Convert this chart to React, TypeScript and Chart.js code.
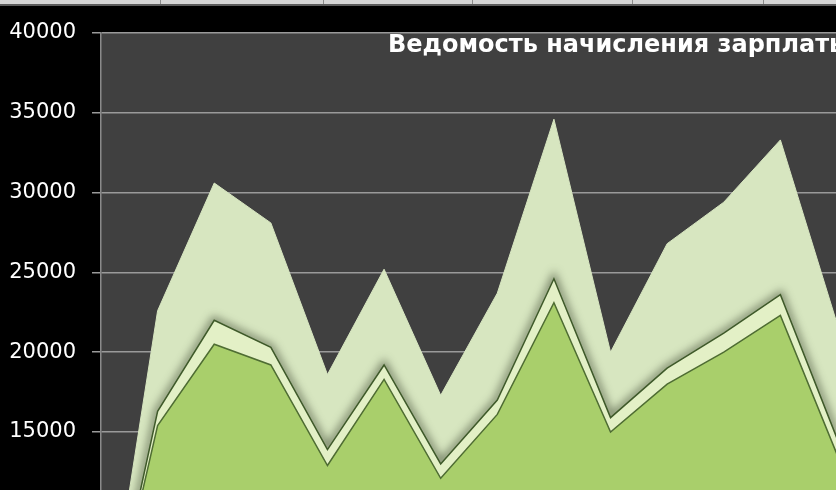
import { useEffect, useRef } from 'react';
import { Chart, registerables } from 'chart.js';

Chart.register(...registerables);

const categories = ['0', '1', '2', '3', '4', '5', '6', '7', '8', '9', '10', '11', '12', '13'];
const seriesOklad = [0, 15400, 20500, 19200, 12900, 18300, 12100, 16100, 23100, 15000, 18000, 20000, 22300, 13600];
const seriesPremia = [0, 900, 1500, 1100, 1000, 900, 900, 900, 1500, 900, 1000, 1200, 1300, 1000];
const seriesDoplata = [0, 6300, 8600, 7800, 4700, 6000, 4300, 6700, 10000, 4100, 7800, 8200, 9700, 7200];
const yMin = 0;
const yMax = 40000;
const yStep = 5000;
const title = 'Ведомость начисления зарплаты';

const bgPlugin = {
  id: 'bgPlugin',
  beforeDraw(chart: any) {
    const { ctx, chartArea, width, height } = chart;
    ctx.save();
    ctx.fillStyle = '#000000';
    ctx.fillRect(0, 0, width, height);
    ctx.fillStyle = '#404040';
    ctx.fillRect(chartArea.left, chartArea.top, chartArea.right - chartArea.left, chartArea.bottom - chartArea.top);
    ctx.restore();
  },
};

const shadowPlugin = {
  id: 'shadowPlugin',
  beforeDatasetDraw(chart: any, args: any) {
    if (args.index === 3) {
      chart.ctx.save();
      chart.ctx.filter = 'blur(4px)';
    }
  },
  afterDatasetDraw(chart: any, args: any) {
    if (args.index === 3) {
      chart.ctx.restore();
    }
  },
};

export default function App() {
  const ref = useRef<HTMLCanvasElement | null>(null);

  useEffect(() => {
    if (!ref.current) return;
    const shadowData = seriesOklad.map((v, i) => v + seriesPremia[i]);
    const chart = new Chart(ref.current, {
      type: 'line',
      data: {
        labels: categories,
        datasets: [
          {
            label: 'Оклад',
            data: seriesOklad,
            fill: 'origin',
            backgroundColor: '#a9cf6b',
            borderColor: '#4f6d33',
            borderWidth: 1.5,
            pointRadius: 0,
            tension: 0,
            order: 0,
            stack: 'main',
          },
          {
            label: 'Премия',
            data: seriesPremia,
            fill: '-1',
            backgroundColor: '#e3f0c6',
            borderColor: '#3f5a2a',
            borderWidth: 1.5,
            pointRadius: 0,
            tension: 0,
            order: 1,
            stack: 'main',
          },
          {
            label: 'Доплата',
            data: seriesDoplata,
            fill: 1,
            backgroundColor: '#d7e6c0',
            borderColor: 'rgba(215,230,192,1)',
            borderWidth: 1,
            pointRadius: 0,
            tension: 0,
            order: 3,
            stack: 'main',
          },
          {
            label: 'shadow',
            data: shadowData,
            fill: false,
            borderColor: 'rgba(45,55,35,0.55)',
            borderWidth: 7,
            pointRadius: 0,
            tension: 0,
            order: 2,
            stack: 'shadow',
          },
        ],
      },
      options: {
        responsive: false,
        animation: false,
        layout: { padding: { top: 33, right: 13, bottom: 19, left: 0 } },
        plugins: {
          legend: { display: false },
          tooltip: { enabled: false },
          title: { display: false },
        },
        scales: {
          x: {
            display: false,
            offset: false,
            stacked: true,
          },
          y: {
            stacked: true,
            min: yMin,
            max: yMax,
            afterFit(scale: any) {
              scale.width = 101;
            },
            ticks: {
              stepSize: yStep,
              color: '#ffffff',
              padding: 16,
              font: { family: 'DejaVu Sans', size: 21 },
              callback: (value: any) => String(value),
            },
            grid: {
              color: '#9a9a9a',
              lineWidth: 1.5,
              tickLength: 9,
              drawTicks: true,
            },
            border: { display: true, color: '#8a8a8a', width: 1.5 },
          },
        },
      },
      plugins: [bgPlugin, shadowPlugin],
    });
    return () => chart.destroy();
  }, []);

  const dividers = [160, 323, 472, 632, 763];

  return (
    <div
      style={{
        position: 'fixed',
        left: 0,
        top: 0,
        width: 836,
        height: 490,
        overflow: 'hidden',
        background: '#000',
      }}
    >
      <canvas ref={ref} width={850} height={700} style={{ width: 850, height: 700, display: 'block' }} />
      <div
        style={{
          position: 'absolute',
          left: 0,
          top: 0,
          width: 836,
          height: 4,
          background: '#d6d6d6',
          borderBottom: '2px solid #5c5c5c',
        }}
      >
        {dividers.map((x) => (
          <div key={x} style={{ position: 'absolute', left: x, top: 0, width: 1, height: 4, background: '#8c8c8c' }} />
        ))}
      </div>
      <div
        style={{
          position: 'absolute',
          left: 388,
          top: 30,
          whiteSpace: 'nowrap',
          color: '#ffffff',
          fontFamily: 'DejaVu Sans',
          fontWeight: 'bold',
          fontSize: 24,
          lineHeight: '28px',
        }}
      >
        {title}
      </div>
    </div>
  );
}
